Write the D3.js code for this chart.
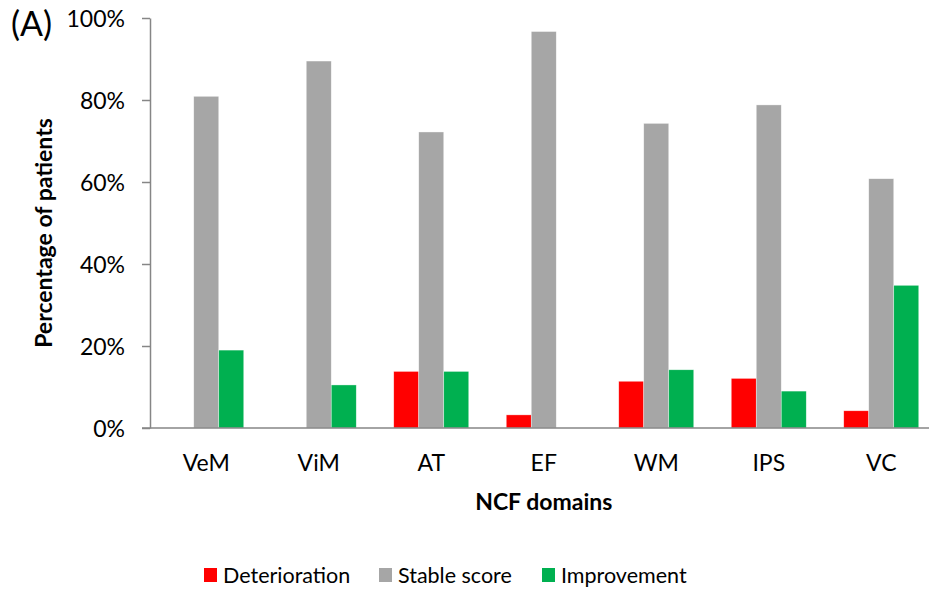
<!DOCTYPE html>
<html>
<head>
<meta charset="utf-8">
<script src="https://cdn.jsdelivr.net/npm/d3@7"></script>
<style>
  html, body { margin: 0; padding: 0; background: #fff; }
  text { font-family: Lato, "Open Sans", sans-serif; fill: #000; }
</style>
</head>
<body>
<svg id="chart"></svg>
<script>
// Values (percent of patients)
const domains = ['VeM', 'ViM', 'AT', 'EF', 'WM', 'IPS', 'VC'];
const seriesNames = ['Deterioration', 'Stable score', 'Improvement'];
const deterioration = [0, 0, 13.8, 3.2, 11.4, 12.1, 4.2];
const stable = [80.9, 89.5, 72.2, 96.7, 74.3, 78.8, 60.8];
const improvement = [19.0, 10.5, 13.8, 0, 14.2, 9.0, 34.8];
const yTicks = [0, 20, 40, 60, 80, 100];

const COLORS = ['#ff0000', '#a6a6a6', '#00b050'];
const W = 929, H = 591;
const M = { left: 150, top: 18, right: -8.5, bottom: 163 };   // plot runs slightly past the right edge, as in the source

const svg = d3.select('#chart').attr('width', W).attr('height', H);

const x = d3.scaleBand()
  .domain(domains)
  .range([M.left, W - M.right])
  .paddingInner(1 / 3)
  .paddingOuter(1 / 6);
const xs = d3.scaleBand().domain(seriesNames).range([0, x.bandwidth()]);
const y = d3.scaleLinear().domain([0, 100]).range([H - M.bottom, M.top]);

const rows = domains.map((d, i) => ({
  domain: d,
  values: [deterioration[i], stable[i], improvement[i]],
}));

// ── bars ──
svg.append('g')
  .selectAll('g')
  .data(rows)
  .join('g')
    .attr('transform', d => `translate(${x(d.domain)},0)`)
  .selectAll('rect')
  .data(d => d.values.map((v, k) => ({ v, k })).filter(e => e.v > 0))
  .join('rect')
    .attr('x', e => xs(seriesNames[e.k]))
    .attr('width', xs.bandwidth())
    .attr('y', e => y(e.v))
    .attr('height', e => y(0) - y(e.v))
    .attr('fill', e => COLORS[e.k])
    .attr('stroke', '#fff')
    .attr('stroke-opacity', 0.6)
    .attr('stroke-width', 0.6);

// ── y axis ──
const yAxis = svg.append('g')
  .attr('transform', `translate(${M.left},0)`)
  .call(d3.axisLeft(y).tickValues(yTicks).tickFormat(d => d + '%').tickSize(8).tickSizeOuter(0).tickPadding(17));
yAxis.selectAll('path, line').attr('stroke', '#868686').attr('stroke-width', 1.5);
yAxis.selectAll('text').style('font-size', '23px').attr('dy', '0.36em');

// ── x axis (baseline, labels only) ──
const xAxis = svg.append('g')
  .attr('transform', `translate(0,${y(0)})`)
  .call(d3.axisBottom(x).tickSize(0).tickPadding(27));
xAxis.select('.domain').remove();
xAxis.selectAll('text').style('font-size', '23px');
svg.append('line')
  .attr('x1', M.left - 8).attr('x2', W)
  .attr('y1', y(0)).attr('y2', y(0))
  .attr('stroke', '#868686').attr('stroke-width', 1.5);

// ── axis titles ──
svg.append('text')
  .attr('x', (x.range()[0] + x.range()[1]) / 2)
  .attr('y', 510)
  .attr('text-anchor', 'middle')
  .style('font-size', '23px').style('font-weight', 'bold')
  .text('NCF domains');

svg.append('text')
  .attr('transform', `translate(52,${(y(0) + y(100)) / 2 + 10}) rotate(-90)`)
  .attr('text-anchor', 'middle')
  .style('font-size', '23px').style('font-weight', 'bold')
  .text('Percentage of patients');

svg.append('text')
  .attr('x', 11).attr('y', 36)
  .style('font-size', '34px')
  .text('(A)');

// ── legend ──
const legendX = [204, 379, 542];
const legend = svg.append('g')
  .selectAll('g')
  .data(seriesNames)
  .join('g')
    .attr('transform', (d, i) => `translate(${legendX[i]},568)`);
legend.append('rect')
  .attr('width', 13).attr('height', 14)
  .attr('fill', (d, i) => COLORS[i]);
legend.append('text')
  .attr('x', 19).attr('y', 15)
  .style('font-size', '21.5px')
  .text(d => d);
</script>
</body>
</html>
